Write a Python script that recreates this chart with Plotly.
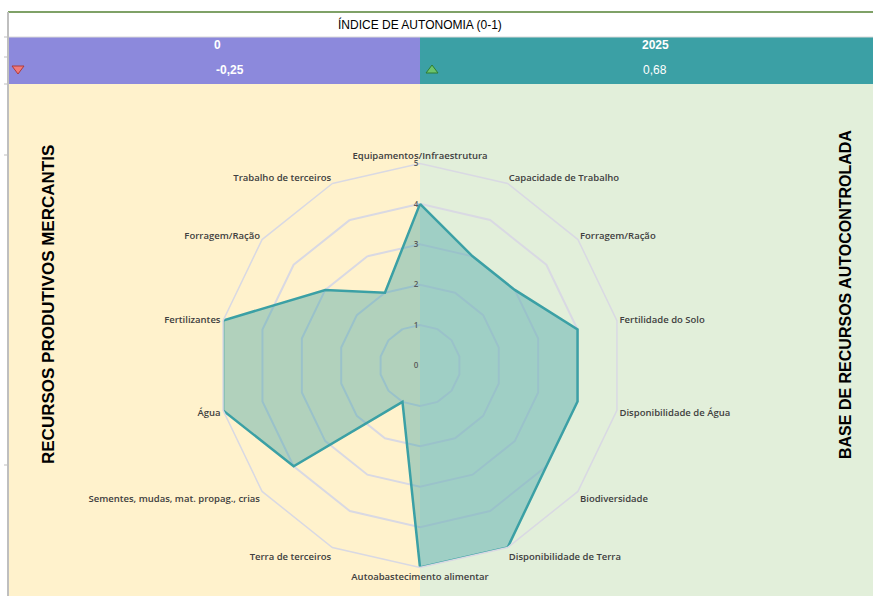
import plotly.graph_objects as go

# ---- data ----
categories = [
    "Equipamentos/Infraestrutura", "Capacidade de Trabalho", "Forragem/Ração ",
    "Fertilidade do Solo", "Disponibilidade de Água", "Biodiversidade",
    "Disponibilidade de Terra", "Autoabastecimento alimentar", "Terra de terceiros",
    "Sementes, mudas, mat. propag., crias", "Água", "Fertilizantes",
    "Forragem/Ração", "Trabalho de terceiros",
]
values = [4, 3, 3, 4, 4, 4, 5, 5, 1, 4, 5, 5, 3, 2]
title_text = "ÍNDICE DE AUTONOMIA (0-1)"
year_left, year_right = "0", "2025"
index_left, index_right = "-0,25", "0,68"
left_label = "RECURSOS PRODUTIVOS MERCANTIS"
right_label = "BASE DE RECURSOS AUTOCONTROLADA"

W, H = 873, 596
def X(px): return px / W
def Y(py): return 1 - py / H

YELLOW = "#FFF2CC"
GREEN_BG = "#E2EFDA"
PURPLE = "#8C89DC"
TEAL = "#3BA0A5"

fig = go.Figure()
fig.add_trace(go.Scatterpolar(
    r=values + values[:1],
    theta=categories + categories[:1],
    mode="lines",
    fill="toself",
    fillcolor="rgba(59,160,165,0.4)",
    line=dict(color=TEAL, width=2.5),
    hoverinfo="skip",
    showlegend=False,
))

R = 202
cx, cy = 420, 365.5
fig.update_layout(
    width=W, height=H,
    margin=dict(l=0, r=0, t=0, b=0),
    paper_bgcolor="white",
    showlegend=False,
    polar=dict(
        domain=dict(x=[X(cx - R), X(cx + R)], y=[Y(cy + R), Y(cy - R)]),
        bgcolor="rgba(0,0,0,0)",
        gridshape="linear",
        radialaxis=dict(
            range=[0, 5], dtick=1, angle=90, tickangle=90,
            showline=False, ticks="", side="counterclockwise",
            gridcolor="#D9D9E3", gridwidth=1.5,
            tickfont=dict(family="Open Sans", size=8, color="#595959", weight=600),
        ),
        angularaxis=dict(
            direction="clockwise", rotation=90,
            showgrid=False, showline=True, linecolor="#D9D9E3", linewidth=1.5,
            ticks="",
            tickfont=dict(family="Open Sans", size=9.5, color="#404040", weight=600),
        ),
    ),
)

shapes = []
def rect(x0, y0, x1, y1, color):
    shapes.append(dict(type="rect", xref="paper", yref="paper",
                       x0=X(x0), x1=X(x1), y0=Y(y1), y1=Y(y0),
                       fillcolor=color, line=dict(width=0), layer="below"))

rect(8, 84, 420, H, YELLOW)
rect(420, 84, W, H, GREEN_BG)
rect(8, 37, 420, 84, PURPLE)
rect(420, 37, W, 84, TEAL)

def line(x0, y0, x1, y1, color, width):
    shapes.append(dict(type="line", xref="paper", yref="paper",
                       x0=X(x0), x1=X(x1), y0=Y(y0), y1=Y(y1),
                       line=dict(color=color, width=width), layer="above"))

line(8, 12, W, 12, "#548235", 1.5)
line(8, 37, W, 37, "#D9D9D9", 1)
line(8, 12, 8, H, "#BFBFBF", 2)
for ty in [37, 57, 84, 155, 465]:
    line(4, ty, 8, ty, "#BFBFBF", 1)

def tri(pts, fill, border):
    d = "M " + " L ".join(f"{X(a)},{Y(b)}" for a, b in pts) + " Z"
    shapes.append(dict(type="path", xref="paper", yref="paper", path=d,
                       fillcolor=fill, line=dict(color=border, width=1), layer="above"))

tri([(12, 66), (24, 66), (18, 74)], "#F07B7B", "#B03A3A")
tri([(426, 73), (438, 73), (432, 65)], "#6CC46C", "#2E7D32")

fig.update_layout(shapes=shapes)

ann = []
def text(x, y, s, size=12, color="black", bold=False, angle=0, family="Liberation Sans"):
    ann.append(dict(x=X(x), y=Y(y), xref="paper", yref="paper", text=(f"<b>{s}</b>" if bold else s),
                    showarrow=False, textangle=angle, xanchor="center", yanchor="middle",
                    font=dict(family=family, size=size, color=color)))

text(420, 25, title_text, size=12)
text(217, 45, year_left, size=12, color="white", bold=True)
text(230, 70, index_left, size=12, color="white", bold=True)
text(655, 45, year_right, size=12, color="white", bold=True)
text(655, 70, index_right, size=12, color="white")
text(48, 305, left_label, size=17, bold=True, angle=-90)
text(846, 295, right_label, size=16, bold=True, angle=-90)
fig.update_layout(annotations=ann)

fig.write_html("out.html", config={"displayModeBar": False},
               post_script="document.body.style.margin='0';document.body.style.overflow='hidden';")
